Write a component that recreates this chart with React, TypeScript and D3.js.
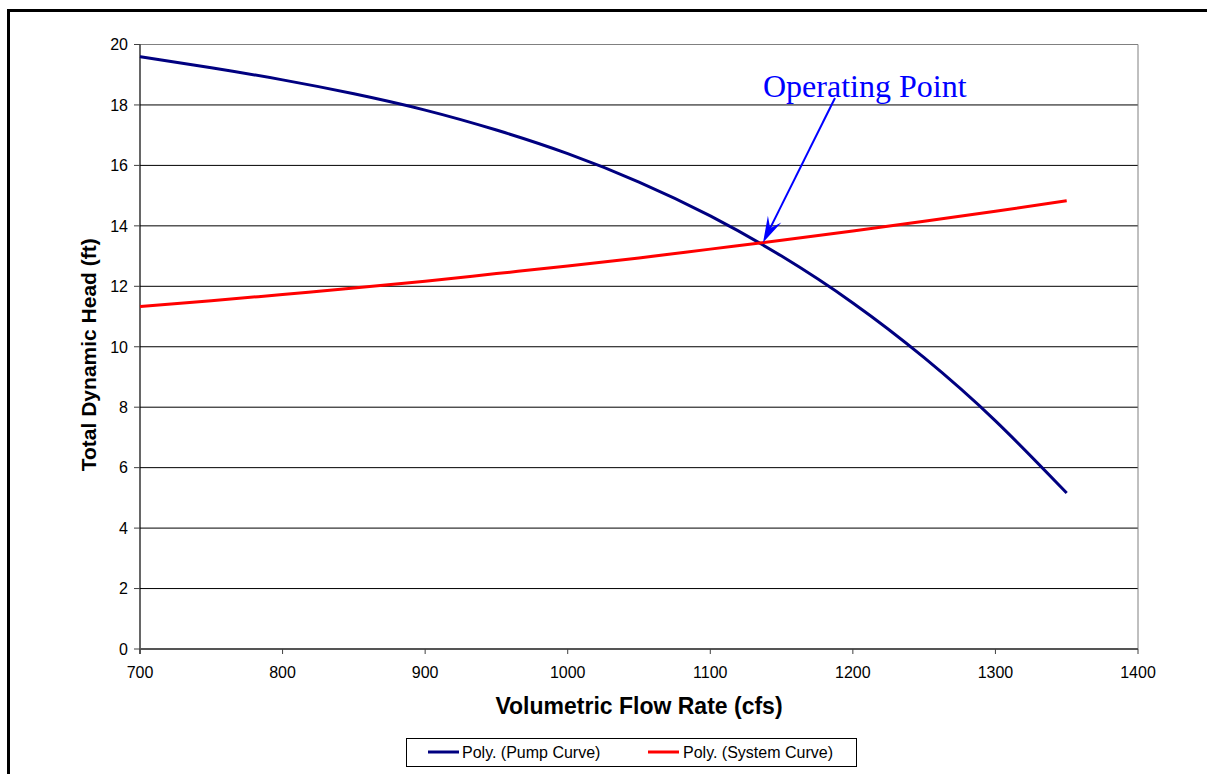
import React from "react";
import * as d3 from "d3";

const flowRates = [700, 750, 800, 850, 900, 950, 1000, 1050, 1100, 1150, 1200, 1250, 1300, 1350];
const pumpHead = [19.6, 19.23, 18.83, 18.37, 17.83, 17.17, 16.39, 15.45, 14.33, 13.0, 11.45, 9.64, 7.55, 5.16];
const systemHead = [11.33, 11.52, 11.73, 11.94, 12.17, 12.42, 12.67, 12.94, 13.23, 13.52, 13.83, 14.15, 14.48, 14.83];
const xTicks = [700, 800, 900, 1000, 1100, 1200, 1300, 1400];
const yTicks = [0, 2, 4, 6, 8, 10, 12, 14, 16, 18, 20];
const seriesNames = ["Poly. (Pump Curve)", "Poly. (System Curve)"];
const operatingPoint = { q: 1137, h: 13.45 };
const annotationLabel = "Operating Point";

const W = 1207;
const H = 774;
const PL = 140, PR = 1138, PT = 44.5, PB = 649;

export default function App() {
  const x = d3.scaleLinear().domain([700, 1400]).range([PL, PR]);
  const y = d3.scaleLinear().domain([0, 20]).range([PB, PT]);
  const line = d3
    .line<[number, number]>()
    .x((d) => x(d[0]))
    .y((d) => y(d[1]))
    .curve(d3.curveNatural);
  const pumpPath = line(flowRates.map((q, i) => [q, pumpHead[i]]) as [number, number][]) || "";
  const sysPath = line(flowRates.map((q, i) => [q, systemHead[i]]) as [number, number][]) || "";

  // arrow
  const tipX = x(operatingPoint.q);
  const tipY = y(operatingPoint.h);
  const startX = 835, startY = 98;
  const ang = Math.atan2(tipY - startY, tipX - startX);
  const L = 26, Wd = 7.5, notch = 16;
  const ux = Math.cos(ang), uy = Math.sin(ang);
  const px = -uy, py = ux;
  const b1 = [tipX - ux * L + px * Wd, tipY - uy * L + py * Wd];
  const b2 = [tipX - ux * L - px * Wd, tipY - uy * L - py * Wd];
  const nt = [tipX - ux * notch, tipY - uy * notch];
  const font = "Arial, 'Liberation Sans', sans-serif";

  return (
    <svg
      width={W}
      height={H}
      style={{ position: "fixed", left: 0, top: 0, display: "block", background: "#fff" }}
    >
      <rect x={0} y={0} width={W} height={H} fill="#fff" />
      {/* chart area border */}
      <rect x={8.5} y={10.5} width={W + 20} height={H + 20} fill="none" stroke="#000" strokeWidth={3} />

      {/* gridlines */}
      {yTicks.filter((t) => t > 0 && t < 20).map((t) => (
        <line key={"g" + t} x1={PL} x2={PR} y1={y(t)} y2={y(t)} stroke="#000" strokeWidth={1} />
      ))}
      {/* plot frame top/right */}
      <line x1={PL} x2={PR} y1={PT} y2={PT} stroke="#808080" strokeWidth={1} />
      <line x1={PR} x2={PR} y1={PT} y2={PB} stroke="#808080" strokeWidth={1} />

      {/* y axis */}
      <line x1={PL} x2={PL} y1={PT} y2={PB + 5} stroke="#000" strokeWidth={1.2} />
      {yTicks.map((t) => (
        <g key={"y" + t}>
          <line x1={PL - 6} x2={PL} y1={y(t)} y2={y(t)} stroke="#404040" strokeWidth={1} />
          <text x={PL - 12} y={y(t)} dy="0.36em" textAnchor="end" fontFamily={font} fontSize={16} fill="#000">
            {t}
          </text>
        </g>
      ))}
      {/* x axis */}
      <line x1={PL} x2={PR} y1={PB} y2={PB} stroke="#555" strokeWidth={2} />
      {xTicks.map((t) => (
        <g key={"x" + t}>
          <line x1={x(t)} x2={x(t)} y1={PB} y2={PB + 5} stroke="#404040" strokeWidth={1} />
          <text x={x(t)} y={678} textAnchor="middle" fontFamily={font} fontSize={16} fill="#000">
            {t}
          </text>
        </g>
      ))}

      {/* curves */}
      <path d={pumpPath} fill="none" stroke="#000080" strokeWidth={3} />
      <path d={sysPath} fill="none" stroke="#FF0000" strokeWidth={3} />

      {/* axis titles */}
      <text x={(PL + PR) / 2} y={714} textAnchor="middle" fontFamily={font} fontWeight="bold" fontSize={23} fill="#000">
        Volumetric Flow Rate (cfs)
      </text>
      <text
        transform={`translate(96, ${(PT + PB) / 2 + 8}) rotate(-90)`}
        textAnchor="middle"
        fontFamily={font}
        fontWeight="bold"
        fontSize={21}
        fill="#000"
      >
        Total Dynamic Head (ft)
      </text>

      {/* annotation */}
      <text x={763} y={97} fontFamily="'Times New Roman', 'Liberation Serif', serif" fontSize={32} fill="#0000FF">
        {annotationLabel}
      </text>
      <line x1={startX} y1={startY} x2={nt[0]} y2={nt[1]} stroke="#0000FF" strokeWidth={2} />
      <path
        d={`M${tipX},${tipY}L${b1[0]},${b1[1]}L${nt[0]},${nt[1]}L${b2[0]},${b2[1]}Z`}
        fill="#0000FF"
        stroke="none"
      />

      {/* legend */}
      <rect x={406.5} y={738.5} width={450} height={28} fill="#fff" stroke="#000" strokeWidth={1} />
      <line x1={428} x2={459} y1={752} y2={752} stroke="#000080" strokeWidth={3} />
      <text x={462} y={758} fontFamily={font} fontSize={16} fill="#000">
        {seriesNames[0]}
      </text>
      <line x1={648} x2={679} y1={752} y2={752} stroke="#FF0000" strokeWidth={3} />
      <text x={683} y={758} fontFamily={font} fontSize={16} fill="#000">
        {seriesNames[1]}
      </text>
    </svg>
  );
}
